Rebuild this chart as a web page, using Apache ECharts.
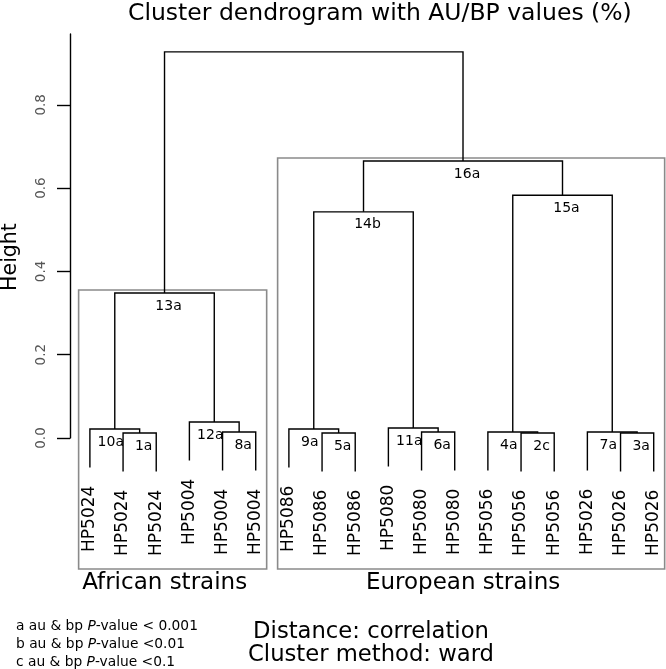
<!DOCTYPE html>
<html><head><meta charset="utf-8">
<script src="https://cdn.jsdelivr.net/npm/echarts@6/dist/echarts.min.js"></script>
<style>html,body{margin:0;padding:0;background:#fff}#c{width:666px;height:669px}</style>
</head><body><div id="c"></div>
<script>
// ---- data ----
const leafLabels = ['HP5024','HP5024','HP5024','HP5004','HP5004','HP5004',
  'HP5086','HP5086','HP5086','HP5080','HP5080','HP5080',
  'HP5056','HP5056','HP5056','HP5026','HP5026','HP5026'];
// hclust-style merges: negative = leaf (1-based), positive = earlier merge (1-based)
const mergeLeft   = [-2, -1, -5, -4, 2, -8, -7, -11, -10, -14, -13, -17, -16, 7, 11, 14, 5];
const mergeRight  = [-3,  1, -6,  3, 4, -9,  6, -12,   8, -15,  10, -18,  12, 9, 13, 15, 16];
const mergeHeight = [0.012, 0.0216, 0.0144, 0.0384, 0.348, 0.012, 0.0216, 0.0144, 0.024,
  0.012, 0.0144, 0.012, 0.0144, 0.543, 0.583, 0.665, 0.927];
const nodeLabels  = ['1a','10a','8a','12a','13a','5a','9a','6a','11a','2c','4a','3a','7a','14b','15a','16a',''];
const yTicks = [0, 0.2, 0.4, 0.6, 0.8];
const boxNodes  = [5, 16];
const boxLabels = ['African strains', 'European strains'];
const legendLines = [['a au & bp ', 'P', '-value < 0.001'], ['b au & bp ', 'P', '-value <0.01'], ['c au & bp ', 'P', '-value <0.1']];
const titleText = 'Cluster dendrogram with AU/BP values (%)';
const methodLines = ['Distance: correlation', 'Cluster method: ward'];

// ---- derived tree geometry (data space) ----
const FONT = '"DejaVu Sans", sans-serif';
const n = leafLabels.length;
const leafX = leafLabels.map((_, i) => i + 1);
const hang = 0.1 * Math.max(...mergeHeight);
const nodeX = [], nodeMin = [], nodeMax = [];
const leafParentH = new Array(n).fill(0);
const cx = c => c < 0 ? leafX[-c - 1] : nodeX[c - 1];
const cmin = c => c < 0 ? -c : nodeMin[c - 1];
const cmax = c => c < 0 ? -c : nodeMax[c - 1];
for (let i = 0; i < mergeLeft.length; i++) {
  const l = mergeLeft[i], r = mergeRight[i];
  nodeX[i] = (cx(l) + cx(r)) / 2;
  [l, r].forEach(c => { if (c < 0) leafParentH[-c - 1] = mergeHeight[i]; });
  nodeMin[i] = Math.min(cmin(l), cmin(r));
  nodeMax[i] = Math.max(cmax(l), cmax(r));
}
const ctop = c => c < 0 ? leafParentH[-c - 1] - hang : mergeHeight[c - 1];
const plotBottom = -0.3145;

const LINE = { stroke: '#000', lineWidth: 1.4, fill: null };

const chart = echarts.init(document.getElementById('c'));
chart.setOption({
  backgroundColor: '#fff',
  animation: false,
  title: {
    text: titleText, left: 128, top: 2, padding: 0,
    textStyle: { fontFamily: FONT, fontSize: 23.5, fontWeight: 'normal', color: '#000' }
  },
  grid: { left: 70, right: 4, top: 34, bottom: 231 },
  xAxis: { type: 'value', min: 0.4, max: 18.25, show: false },
  yAxis: {
    type: 'value', min: 0, max: 0.97,
    axisLine: { show: true, lineStyle: { color: '#000', width: 1.4 } },
    axisTick: { show: true, length: 13, customValues: yTicks, lineStyle: { color: '#000', width: 1.4 } },
    axisLabel: { customValues: yTicks, rotate: 90, margin: 22, color: '#555',
      fontFamily: FONT, fontSize: 13.5, formatter: v => v.toFixed(1) },
    splitLine: { show: false }
  },
  graphic: [
    { type: 'text', x: 11, y: 257, rotation: Math.PI / 2,
      style: { text: 'Height', font: '20.5px ' + FONT, fill: '#000', align: 'center', verticalAlign: 'middle' } },
    ...methodLines.map((t, k) => ({ type: 'text', x: 371, y: 632 + k * 23,
      style: { text: t, font: '22.7px ' + FONT, fill: '#000', align: 'center', verticalAlign: 'middle' } })),
    ...legendLines.map((p, k) => ({ type: 'text', x: 16, y: 626 + k * 18,
      style: { text: '{n|' + p[0] + '}{i|' + p[1] + '}{n|' + p[2] + '}', align: 'left', verticalAlign: 'middle',
        rich: { n: { fontFamily: FONT, fontSize: 13.8, color: '#000' },
                i: { fontFamily: FONT, fontSize: 13.8, fontStyle: 'italic', color: '#000' } } } }))
  ],
  series: [
    { // cluster boxes
      type: 'custom', silent: true,
      data: boxNodes.map((k, j) => [nodeMin[k - 1], nodeMax[k - 1], mergeHeight[k - 1], j]),
      renderItem: (params, api) => {
        const a = api.coord([api.value(0) - 0.34, api.value(2)]);
        const b = api.coord([api.value(1) + 0.33, plotBottom]);
        const j = api.value(3);
        return { type: 'group', children: [
          { type: 'rect', shape: { x: a[0], y: a[1] - 3, width: b[0] - a[0], height: b[1] - a[1] + 3 },
            style: { stroke: '#8a8a8a', lineWidth: 1.6, fill: null } },
          { type: 'text', x: (a[0] + b[0]) / 2 - 8, y: b[1] + 14,
            style: { text: boxLabels[j], font: '23px ' + FONT, fill: '#000', align: 'center', verticalAlign: 'middle' } }
        ] };
      }
    },
    { // dendrogram branches
      type: 'custom', silent: true,
      data: mergeHeight.map((h, i) => [nodeX[i], h, i]),
      renderItem: (params, api) => {
        const i = api.value(2), h = api.value(1);
        const l = mergeLeft[i], r = mergeRight[i];
        const p1 = api.coord([cx(l), ctop(l)]), p2 = api.coord([cx(l), h]);
        const p3 = api.coord([cx(r), h]), p4 = api.coord([cx(r), ctop(r)]);
        const mid = api.coord([nodeX[i], h]);
        const dx = (l < 0 && r > 0) ? -4 : 4;
        return { type: 'group', children: [
          { type: 'polyline', shape: { points: [p1, p2, p3, p4] }, style: LINE },
          { type: 'text', x: mid[0] + dx, y: mid[1] + 6,
            style: { text: nodeLabels[i], font: '14px ' + FONT, fill: '#000', align: 'center', verticalAlign: 'top' } }
        ] };
      }
    },
    { // leaf labels
      type: 'custom', silent: true,
      data: leafX.map((x, i) => [x, leafParentH[i] - hang, i]),
      renderItem: (params, api) => {
        const p = api.coord([api.value(0), api.value(1)]);
        return { type: 'text', x: p[0], y: p[1] + 18, rotation: Math.PI / 2,
          style: { text: leafLabels[api.value(2)], font: '17px ' + FONT, fill: '#000', align: 'right', verticalAlign: 'middle' } };
      }
    }
  ]
});
</script></body></html>
